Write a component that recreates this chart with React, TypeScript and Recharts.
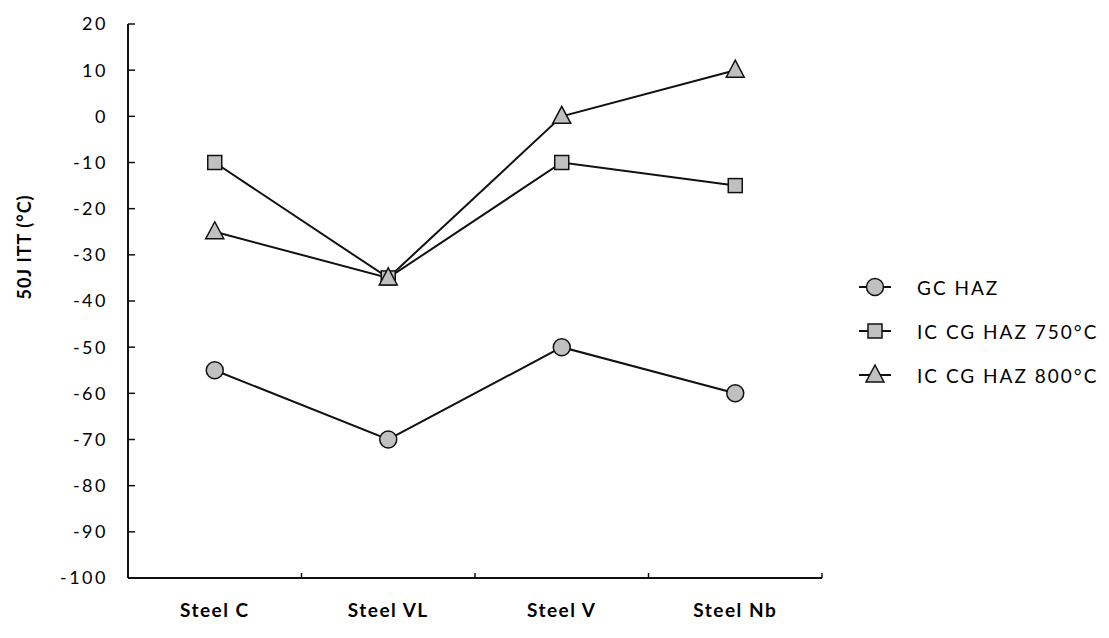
import React from "react"
import { LineChart, Line, XAxis, YAxis } from "recharts"

const CATEGORIES = ["Steel C", "Steel VL", "Steel V", "Steel Nb"]
const GC_HAZ = [-55, -70, -50, -60]
const ICCG_750 = [-10, -35, -10, -15]
const ICCG_800 = [-25, -35, 0, 10]
const Y_TICKS = [-100, -90, -80, -70, -60, -50, -40, -30, -20, -10, 0, 10, 20]

const SERIES = [
  { key: "gc", name: "GC HAZ", shape: "circle" },
  { key: "ic750", name: "IC CG HAZ 750°C", shape: "square" },
  { key: "ic800", name: "IC CG HAZ 800°C", shape: "triangle" },
]

const data = CATEGORIES.map((c, i) => ({
  cat: c,
  gc: GC_HAZ[i],
  ic750: ICCG_750[i],
  ic800: ICCG_800[i],
}))

const W = 1109
const H = 638
const M = { top: 24, right: 287, bottom: 0, left: 0 }
const Y_W = 128
const X_H = 60
const PLOT_W = W - M.left - M.right - Y_W
const HALF_BAND = PLOT_W / CATEGORIES.length / 2

const FONT = "Lato, 'Open Sans', sans-serif"
const FILL = "#c0c0c0"
const INK = "#111"

function Marker({ shape, cx, cy }: { shape: string; cx: number; cy: number }) {
  if (shape === "circle") {
    return <circle cx={cx} cy={cy} r={8.5} fill={FILL} stroke={INK} strokeWidth={1.5} />
  }
  if (shape === "square") {
    return <rect x={cx - 7} y={cy - 7} width={14} height={14} fill={FILL} stroke={INK} strokeWidth={1.5} />
  }
  return (
    <polygon
      points={`${cx},${cy - 10} ${cx + 9},${cy + 7} ${cx - 9},${cy + 7}`}
      fill={FILL}
      stroke={INK}
      strokeWidth={1.5}
    />
  )
}

const makeDot = (shape: string) => (p: any) => {
  if (p.cx == null || p.cy == null) return <g key={p.index} />
  return <Marker key={`${shape}-${p.index}`} shape={shape} cx={p.cx} cy={p.cy} />
}

function CatTick(props: any) {
  const { x, y, payload, index } = props
  const last = index === CATEGORIES.length - 1
  return (
    <g>
      <line x1={x - HALF_BAND} x2={x - HALF_BAND} y1={y} y2={y - 5} stroke={INK} strokeWidth={1.5} />
      {last && <line x1={x + HALF_BAND} x2={x + HALF_BAND} y1={y} y2={y - 5} stroke={INK} strokeWidth={1.5} />}
      <text
        x={x}
        y={y + 39}
        textAnchor="middle"
        fontFamily={FONT}
        fontWeight={700}
        fontSize={19}
        letterSpacing={1.5}
        fill="#000"
      >
        {payload.value}
      </text>
    </g>
  )
}

function YTitle(props: any) {
  const { viewBox } = props
  const cx = 24
  const cy = viewBox.y + viewBox.height / 2 - 54
  return (
    <text
      x={cx}
      y={cy}
      transform={`rotate(-90 ${cx} ${cy})`}
      textAnchor="middle"
      dominantBaseline="central"
      fontFamily={FONT}
      fontWeight={700}
      fontSize={18}
      letterSpacing={1}
      fill="#000"
    >
      50J ITT (°C)
    </text>
  )
}

function LegendBox() {
  return (
    <svg width={260} height={140} style={{ position: "absolute", left: 850, top: 265 }}>
      {SERIES.map((s, i) => {
        const y = 22 + i * 44
        return (
          <g key={s.key}>
            <line x1={9} x2={41} y1={y} y2={y} stroke={INK} strokeWidth={2} />
            <Marker shape={s.shape} cx={25} cy={y} />
            <text
              x={67}
              y={y}
              dominantBaseline="central"
              fontFamily={FONT}
              fontSize={19}
              letterSpacing={2}
              fill="#000"
            >
              {s.name}
            </text>
          </g>
        )
      })}
    </svg>
  )
}

export default function App() {
  return (
    <div style={{ position: "absolute", left: 0, top: 0, width: W, height: H, background: "#fff" }}>
      <LineChart width={W} height={H} data={data} margin={M}>
        <XAxis
          dataKey="cat"
          scale="band"
          height={X_H}
          axisLine={{ stroke: INK, strokeWidth: 2 }}
          tickLine={false}
          tickSize={0}
          tickMargin={0}
          tick={<CatTick />}
          interval={0}
        />
        <YAxis
          width={Y_W}
          domain={[-100, 20]}
          ticks={Y_TICKS}
          interval={0}
          axisLine={{ stroke: INK, strokeWidth: 2 }}
          tickLine={{ stroke: INK, strokeWidth: 1.5 }}
          tickSize={-7}
          tickMargin={27}
          tick={{ fontFamily: FONT, fontSize: 18, fill: "#000", letterSpacing: 2.5 }}
          label={<YTitle />}
        />
        {SERIES.map((s) => (
          <Line
            key={s.key}
            dataKey={s.key}
            name={s.name}
            type="linear"
            stroke={INK}
            strokeWidth={2}
            dot={makeDot(s.shape)}
            activeDot={false}
            isAnimationActive={false}
          />
        ))}
      </LineChart>
      <LegendBox />
    </div>
  )
}
